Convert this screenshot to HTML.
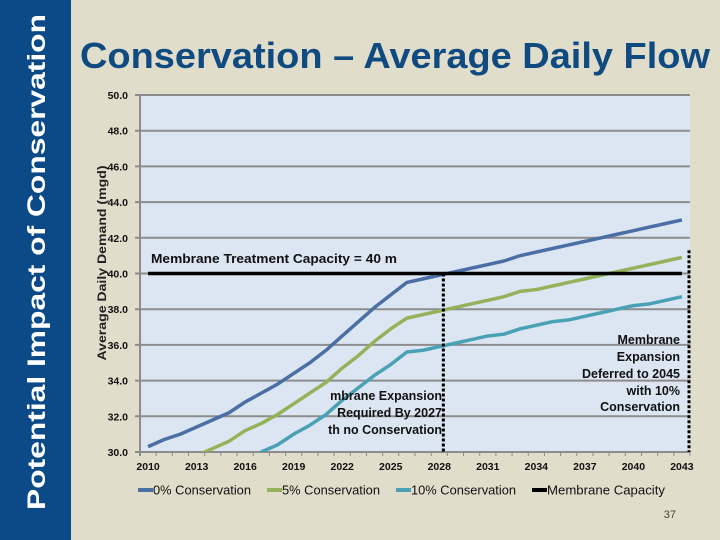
<!DOCTYPE html>
<html><head><meta charset="utf-8"><style>
body{margin:0;width:720px;height:540px;overflow:hidden;background:#e1ddcb;font-family:"Liberation Sans",sans-serif}
#band{position:absolute;left:0;top:0;width:71px;height:540px;background:#0b4a86}
svg{position:absolute;left:0;top:0}
</style></head><body>
<div id="band"></div>
<svg id="c" width="720" height="540">
<text x="0" y="0" transform="translate(45,262) rotate(-90)" text-anchor="middle" font-size="25" font-weight="bold" fill="#fff" textLength="496" lengthAdjust="spacingAndGlyphs">Potential Impact of Conservation</text>
<text x="80" y="68" font-size="36" font-weight="bold" fill="#0f4a80" textLength="630" lengthAdjust="spacingAndGlyphs">Conservation – Average Daily Flow</text>
</svg>
<script>
const years=[];for(let y=2010;y<=2043;y++)years.push(y);
const yTicks=[30,32,34,36,38,40,42,44,46,48,50];
const xTickLabels=["2010","2013","2016","2019","2022","2025","2028","2031","2034","2037","2040","2043"];
const cons0=[30.3,30.7,31.0,31.4,31.8,32.2,32.8,33.3,33.8,34.4,35.0,35.7,36.5,37.3,38.1,38.8,39.5,39.7,39.9,40.1,40.3,40.5,40.7,41.0,41.2,41.4,41.6,41.8,42.0,42.2,42.4,42.6,42.8,43.0];
const cons5=[28.8,29.2,29.5,29.8,30.2,30.6,31.2,31.6,32.1,32.7,33.3,33.9,34.7,35.4,36.2,36.9,37.5,37.7,37.9,38.1,38.3,38.5,38.7,39.0,39.1,39.3,39.5,39.7,39.9,40.1,40.3,40.5,40.7,40.9];
const cons10=[27.3,27.6,27.9,28.3,28.6,29.0,29.5,30.0,30.4,31.0,31.5,32.1,32.9,33.6,34.3,34.9,35.6,35.7,35.9,36.1,36.3,36.5,36.6,36.9,37.1,37.3,37.4,37.6,37.8,38.0,38.2,38.3,38.5,38.7];
const capacity=40;
const expansionYears=[2028,2043];
const L=140,R=690,T=95,B=452,ymin=30,ymax=50;
const bw=(R-L)/years.length;
const X=y=>L+(y-2010+0.5)*bw;
const Y=v=>B-(v-ymin)/(ymax-ymin)*(B-T);
const NS="http://www.w3.org/2000/svg",svg=document.getElementById('c');
function mk(t,a,p){const e=document.createElementNS(NS,t);for(const k in a)e.setAttribute(k,a[k]);(p||svg).appendChild(e);return e;}
const defs=mk('defs',{});const cp=mk('clipPath',{id:'clip'},defs);mk('rect',{x:L,y:T,width:R-L,height:B-T},cp);
const bg=mk('rect',{x:L,y:T,width:R-L,height:B-T,fill:'#dce6f2'});

yTicks.forEach(v=>{
 const g=mk('line',{x1:L-5,x2:R,y1:Y(v),y2:Y(v),stroke:'#8c8c8c','stroke-width':2});
 
 const t=mk('text',{x:L-12,y:Y(v)+4,'text-anchor':'end','font-size':'10.5','font-weight':'bold',fill:'#111'});t.textContent=v.toFixed(1);
 
});
mk('line',{x1:L,x2:L,y1:T,y2:B+4,stroke:'#8c8c8c','stroke-width':2});
mk('line',{x1:L,x2:R,y1:B,y2:B,stroke:'#8c8c8c','stroke-width':2});
for(let i=0;i<=years.length;i++)mk('line',{x1:L+i*bw,x2:L+i*bw,y1:B,y2:B+4,stroke:'#8c8c8c','stroke-width':1});
xTickLabels.forEach(s=>{const t=mk('text',{x:X(+s),y:B+18,'text-anchor':'middle','font-size':'10.5','font-weight':'bold',fill:'#111'});t.textContent=s;
 });
const yl=mk('text',{transform:`translate(106,263) rotate(-90)`,'text-anchor':'middle','font-size':'12','font-weight':'bold',fill:'#222',textLength:'195',lengthAdjust:'spacingAndGlyphs'});yl.textContent='Average Daily Demand (mgd)';

function series(d,col,name){const p=mk('polyline',{points:d.map((v,i)=>X(years[i])+','+Y(v)).join(' '),fill:'none',stroke:col,'stroke-width':3.5,'stroke-linejoin':'round','clip-path':'url(#clip)'});
 }
series(cons0,'#4a6fa5','series-0pct');series(cons5,'#93b25a','series-5pct');series(cons10,'#4aa0b5','series-10pct');
const cl=mk('line',{x1:X(2010),x2:X(2043),y1:Y(capacity),y2:Y(capacity),stroke:'#000','stroke-width':3.5});

const d1=mk('line',{x1:L+(expansionYears[0]-2010+1)*bw-4,x2:L+(expansionYears[0]-2010+1)*bw-4,y1:Y(capacity),y2:B,stroke:'#000','stroke-width':3,'stroke-dasharray':'3,2'});

const d2=mk('line',{x1:R-1,x2:R-1,y1:Y(41.3),y2:B,stroke:'#000','stroke-width':3,'stroke-dasharray':'3,2'});

function txt(x,y,s,anc,name,len){const a={x:x,y:y,'text-anchor':anc,'font-size':'12.5','font-weight':'bold',fill:'#111'};if(len){a.textLength=len;a.lengthAdjust='spacingAndGlyphs';}
 const t=mk('text',a);t.textContent=s;}
txt(151,263,'Membrane Treatment Capacity = 40 m','start','capacity-annotation',246);
[['mbrane Expansion',400],['Required By 2027',417],['th no Conservation',434]].forEach(a=>txt(442,a[1],a[0],'end','expansion-2027-annotation'));
[['Membrane',344],['Expansion',361],['Deferred to 2045',378],['with 10%',395],['Conservation',411]].forEach(a=>txt(680,a[1],a[0],'end','expansion-2045-annotation'));
const leg=[['0% Conservation','#4a6fa5',138,98],['5% Conservation','#93b25a',267,98],['10% Conservation','#4aa0b5',396,105],['Membrane Capacity','#000',532,118]];
leg.forEach(l=>{const g=mk('g',{});
 mk('line',{x1:l[2],x2:l[2]+15,y1:490,y2:490,stroke:l[1],'stroke-width':4},g);
 const t=mk('text',{x:l[2]+15,y:494.5,'font-size':'12.5',fill:'#111',textLength:l[3],lengthAdjust:'spacingAndGlyphs'},g);t.textContent=l[0];});
const pn=mk('text',{x:676,y:518,'text-anchor':'end','font-size':'11',fill:'#444'});pn.textContent='37';

</script>
</body></html>
